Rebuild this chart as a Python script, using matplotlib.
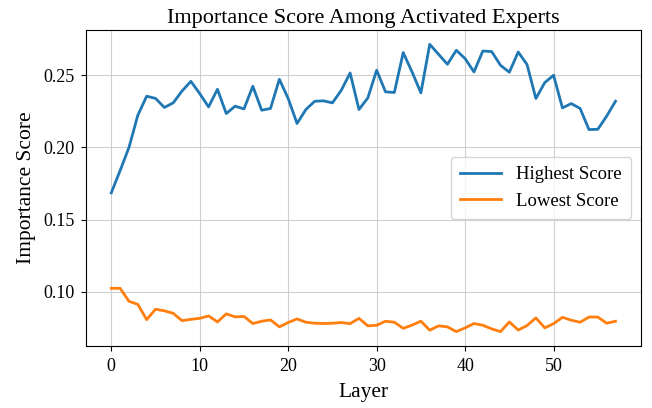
import matplotlib
matplotlib.use("Agg")
import matplotlib.pyplot as plt
import numpy as np

plt.rcParams['font.family'] = ['Liberation Serif', 'DejaVu Serif']

layers = list(range(58))

highest_score = [
    0.1686, 0.1840, 0.2000, 0.2223, 0.2355, 0.2340, 0.2277, 0.2309, 0.2391, 0.2458,
    0.2373, 0.2281, 0.2403, 0.2235, 0.2286, 0.2267, 0.2424, 0.2258, 0.2270, 0.2472,
    0.2339, 0.2166, 0.2263, 0.2320, 0.2323, 0.2309, 0.2396, 0.2516, 0.2263, 0.2343,
    0.2535, 0.2385, 0.2381, 0.2657, 0.2523, 0.2378, 0.2714, 0.2645, 0.2576, 0.2673,
    0.2615, 0.2523, 0.2668, 0.2664, 0.2569, 0.2521, 0.2661, 0.2574, 0.2339, 0.2449,
    0.2500, 0.2274, 0.2304, 0.2270, 0.2124, 0.2126, 0.2217, 0.2320,
]

lowest_score = [
    0.1025, 0.1025, 0.0935, 0.0914, 0.0808, 0.0880, 0.0869, 0.0852, 0.0801, 0.0810,
    0.0817, 0.0834, 0.0792, 0.0848, 0.0827, 0.0830, 0.0781, 0.0797, 0.0806, 0.0758,
    0.0788, 0.0813, 0.0790, 0.0783, 0.0781, 0.0783, 0.0788, 0.0780, 0.0817, 0.0765,
    0.0769, 0.0797, 0.0790, 0.0748, 0.0770, 0.0797, 0.0735, 0.0765, 0.0758, 0.0725,
    0.0751, 0.0781, 0.0769, 0.0744, 0.0725, 0.0792, 0.0736, 0.0767, 0.0820, 0.0751,
    0.0780, 0.0824, 0.0804, 0.0790, 0.0826, 0.0826, 0.0783, 0.0797,
]

fig = plt.figure(figsize=(6.52, 4.08), dpi=100)
ax = fig.add_axes([0.132, 0.152, 0.8507, 0.7745])

ax.plot(layers, highest_score, color='#1f77b4', linewidth=2, label='Highest Score')
ax.plot(layers, lowest_score, color='#ff7f0e', linewidth=2, label='Lowest Score')

ax.set_title('Importance Score Among Activated Experts', fontsize=16, pad=5)
ax.set_xlabel('Layer', fontsize=15.5, labelpad=6)
ax.set_ylabel('Importance Score', fontsize=15.5, labelpad=5)
ax.tick_params(labelsize=13, pad=5)
ax.set_yticks([0.10, 0.15, 0.20, 0.25])
ax.grid(True, color='#d0d0d0', linewidth=0.8)
ax.set_axisbelow(True)
ax.legend(loc='center right', fontsize=13.5, borderpad=0.5, handlelength=2.2)

fig.savefig('out.png', dpi=100)
